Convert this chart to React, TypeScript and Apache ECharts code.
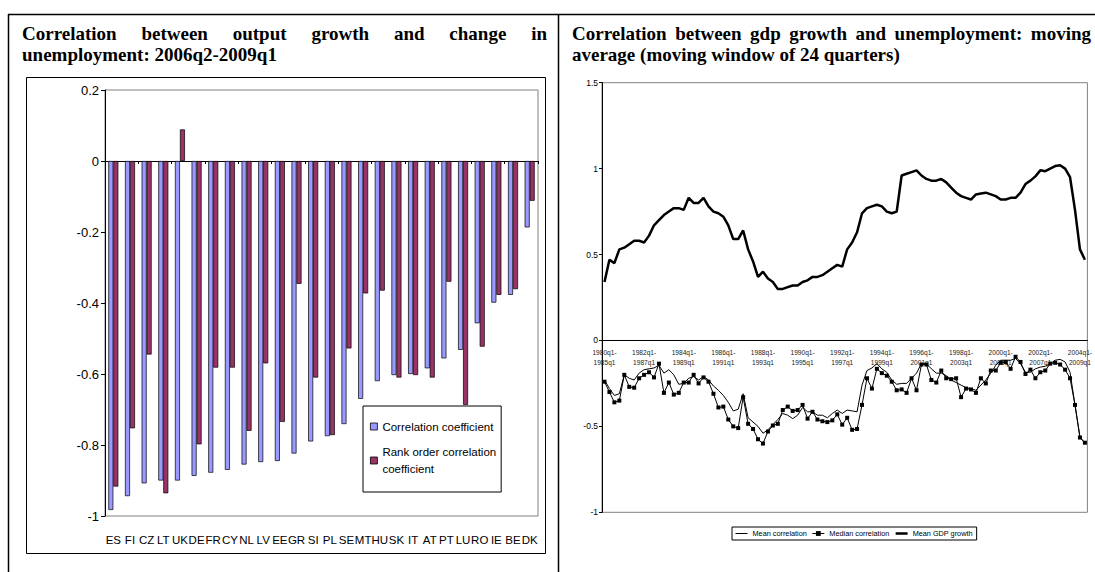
import * as echarts from "echarts"
import {useEffect, useRef} from "react"

// left chart: 2006q2-2009q1 correlations by country
const countries = ["ES", "FI", "CZ", "LT", "UK", "DE", "FR", "CY", "NL", "LV", "EE", "GR", "SI",
    "PL", "SE", "MT", "HU", "SK", "IT", "AT", "PT", "LU", "RO", "IE", "BE", "DK"]
const correlationCoefficient = [-0.983, -0.944, -0.908, -0.9, -0.9, -0.887, -0.878, -0.87, -0.855, -0.848,
    -0.845, -0.824, -0.79, -0.775, -0.741, -0.67, -0.62, -0.603, -0.6, -0.584, -0.556, -0.532, -0.457,
    -0.399, -0.377, -0.187]
const rankOrderCoefficient = [-0.917, -0.753, -0.545, -0.936, 0.089, -0.798, -0.582, -0.582, -0.76, -0.57,
    -0.735, -0.346, -0.61, -0.772, -0.528, -0.373, -0.365, -0.61, -0.603, -0.61, -0.34, -0.687, -0.523,
    -0.377, -0.361, -0.112]

// right chart: moving windows, first window starts 1980q1
const firstYear = 1980
const windowYears = 5
const windowCount = 98
const windows: string[] = []
for (let i = 0; i < windowCount; i++) {
    const y = firstYear + Math.floor(i / 4)
    const q = (i % 4) + 1
    windows.push(`${y}q${q}-\n${y + windowYears}q${q}`)
}

const meanCorrelation = [
    -0.23, -0.28, -0.32, -0.31, -0.2, -0.22, -0.23, -0.19, -0.17, -0.165,
    -0.16, -0.145, -0.19, -0.17, -0.2, -0.255, -0.25, -0.22, -0.21, -0.23,
    -0.21, -0.23, -0.265, -0.29, -0.32, -0.36, -0.41, -0.4, -0.31, -0.45,
    -0.475, -0.5, -0.54, -0.52, -0.49, -0.46, -0.425, -0.435, -0.455, -0.435,
    -0.39, -0.415, -0.415, -0.435, -0.435, -0.45, -0.425, -0.405, -0.425, -0.405,
    -0.41, -0.415, -0.26, -0.175, -0.16, -0.135, -0.165, -0.185, -0.23, -0.255,
    -0.25, -0.25, -0.22, -0.19, -0.135, -0.135, -0.165, -0.19, -0.19, -0.205,
    -0.23, -0.245, -0.26, -0.275, -0.28, -0.29, -0.26, -0.23, -0.19, -0.145,
    -0.115, -0.115, -0.115, -0.105, -0.135, -0.185, -0.185, -0.165, -0.155, -0.15,
    -0.135, -0.115, -0.11, -0.125, -0.185, -0.375, -0.56, -0.6]
const medianCorrelation = [
    -0.24, -0.3, -0.36, -0.35, -0.2, -0.27, -0.275, -0.22, -0.2, -0.185,
    -0.215, -0.135, -0.305, -0.245, -0.315, -0.305, -0.245, -0.245, -0.2, -0.25,
    -0.215, -0.24, -0.31, -0.39, -0.385, -0.46, -0.5, -0.51, -0.33, -0.485,
    -0.515, -0.575, -0.6, -0.53, -0.495, -0.485, -0.405, -0.385, -0.41, -0.405,
    -0.375, -0.455, -0.415, -0.46, -0.47, -0.475, -0.465, -0.43, -0.49, -0.45,
    -0.52, -0.515, -0.375, -0.22, -0.28, -0.165, -0.19, -0.205, -0.24, -0.29,
    -0.285, -0.305, -0.22, -0.29, -0.14, -0.14, -0.23, -0.245, -0.175, -0.22,
    -0.225, -0.22, -0.33, -0.28, -0.285, -0.305, -0.22, -0.25, -0.175, -0.175,
    -0.13, -0.125, -0.165, -0.095, -0.125, -0.195, -0.17, -0.22, -0.185, -0.175,
    -0.135, -0.13, -0.14, -0.17, -0.22, -0.375, -0.565, -0.595]
const meanGdpGrowth = [
    0.34, 0.47, 0.45, 0.53, 0.54, 0.56, 0.58, 0.58, 0.57, 0.61,
    0.67, 0.7, 0.73, 0.75, 0.77, 0.77, 0.76, 0.83, 0.8, 0.8,
    0.83, 0.78, 0.75, 0.74, 0.72, 0.67, 0.59, 0.59, 0.64, 0.53,
    0.46, 0.37, 0.4, 0.36, 0.34, 0.3, 0.3, 0.31, 0.32, 0.32,
    0.34, 0.35, 0.37, 0.37, 0.38, 0.4, 0.42, 0.44, 0.43, 0.53,
    0.57, 0.63, 0.74, 0.77, 0.78, 0.79, 0.78, 0.75, 0.74, 0.75,
    0.96, 0.97, 0.98, 0.99, 0.96, 0.94, 0.93, 0.93, 0.94, 0.92,
    0.89, 0.86, 0.84, 0.83, 0.82, 0.85, 0.855, 0.86, 0.85, 0.84,
    0.82, 0.82, 0.83, 0.83, 0.86, 0.91, 0.93, 0.955, 0.99, 0.985,
    1.0, 1.015, 1.02, 1.0, 0.95, 0.76, 0.53, 0.47]

const leftTitle = ["Correlation between output growth and change in", "unemployment: 2006q2-2009q1"]
const rightTitle = ["Correlation between gdp growth and unemployment: moving", "average (moving window of 24 quarters)"]

const SANS = '"Liberation Sans", Arial, sans-serif'
const SERIF = '"Liberation Serif", "Times New Roman", serif'
const TITLE_SIZE = 19

// right plot: top at 1.5, bottom at -1, the category axis sits on 0
const R_TOP = 82.7
const R_HEIGHT = 429.6
const R_ZERO_OFFSET = -R_HEIGHT * 1 / 2.5

const titleText = (text: string, x: number, y: number) => ({
    type: 'text', x, y, silent: true,
    style: {text, fontSize: TITLE_SIZE, fontWeight: 'bold', fontFamily: SERIF, fill: '#000', verticalAlign: 'middle'}
})

// word-by-word layout so that a line stretches from x0 to x1 like justified text
const justified = (text: string, x0: number, x1: number, y: number) => {
    const ctx = document.createElement('canvas').getContext('2d')!
    ctx.font = `bold ${TITLE_SIZE}px ${SERIF}`
    const words = text.split(' ')
    const widths = words.map(w => ctx.measureText(w).width)
    const gap = (x1 - x0 - widths.reduce((a, b) => a + b, 0)) / (words.length - 1)
    let x = x0
    return words.map((w, i) => {
        const el = titleText(w, x, y)
        x += widths[i] + gap
        return el
    })
}

const App: React.FC = () => {
    const chartContainerRef = useRef<HTMLDivElement | null>(null)

    useEffect(() => {
        const chart = echarts.init(chartContainerRef.current, null, {renderer: 'svg'})

        const frame = {stroke: '#000', lineWidth: 1.5}
        const graphic = [
            {type: 'line', shape: {x1: 8, y1: 14.5, x2: 1095, y2: 14.5}, style: frame},
            {type: 'line', shape: {x1: 8.5, y1: 14, x2: 8.5, y2: 572}, style: frame},
            {type: 'line', shape: {x1: 558.5, y1: 14, x2: 558.5, y2: 572}, style: frame},
            {type: 'rect', shape: {x: 26.5, y: 77.5, width: 519, height: 476}, style: {fill: 'none', stroke: '#000', lineWidth: 1}},
            ...justified(leftTitle[0], 22, 547, 33),
            titleText(leftTitle[1], 22, 54),
            ...justified(rightTitle[0], 572, 1091, 33),
            titleText(rightTitle[1], 572, 54),
        ]

        const lineItemHidden = {opacity: 0}

        const option = {
            animation: false,
            backgroundColor: '#fff',
            graphic,
            grid: [
                {left: 105, top: 90, width: 433, height: 426, show: true, borderColor: '#808080', borderWidth: 1},
                {left: 602, top: R_TOP, width: 494.4, height: R_HEIGHT, show: true, borderColor: '#808080', borderWidth: 1},
            ],
            xAxis: [
                {
                    gridIndex: 0, type: 'category', data: countries, position: 'bottom',
                    axisLine: {onZero: true, lineStyle: {color: '#000', width: 1}},
                    axisTick: {show: true, length: 3, lineStyle: {color: '#000'}},
                    axisLabel: {show: false},
                },
                {
                    gridIndex: 0, type: 'category', data: countries, position: 'bottom',
                    axisLine: {show: false, onZero: false},
                    axisTick: {show: false},
                    axisLabel: {interval: 0, fontSize: 11.5, fontFamily: SANS, color: '#000', margin: 18},
                },
                {
                    gridIndex: 1, type: 'category', data: windows, boundaryGap: true,
                    position: 'bottom', offset: R_ZERO_OFFSET,
                    axisLine: {onZero: false, lineStyle: {color: '#000', width: 1}},
                    axisTick: {show: false},
                    axisLabel: {interval: 7, fontSize: 6.6, lineHeight: 10, fontFamily: SANS, color: '#222', margin: 7},
                },
            ],
            yAxis: [
                {
                    gridIndex: 0, type: 'value', min: -1, max: 0.2, interval: 0.2,
                    splitLine: {show: false},
                    axisLine: {show: true, lineStyle: {color: '#000'}},
                    axisTick: {show: true, length: 4, lineStyle: {color: '#000'}},
                    axisLabel: {
                        fontSize: 13, fontFamily: SANS, color: '#000', margin: 6,
                        formatter: (v: number) => String(Math.round(v * 10) / 10)
                    },
                },
                {
                    gridIndex: 1, type: 'value', min: -1, max: 1.5, interval: 0.5,
                    splitLine: {show: false},
                    axisLine: {show: true, lineStyle: {color: '#000'}},
                    axisTick: {show: true, length: 3, lineStyle: {color: '#000'}},
                    axisLabel: {
                        fontSize: 8.5, fontFamily: SANS, color: '#000', margin: 4,
                        formatter: (v: number) => String(Math.round(v * 10) / 10)
                    },
                },
            ],
            legend: [
                {
                    left: 363, top: 406, orient: 'vertical',
                    borderColor: '#000', borderWidth: 1, borderRadius: 0,
                    padding: [12, 5, 6, 7], itemGap: 0,
                    itemWidth: 7, itemHeight: 7, icon: 'rect',
                    itemStyle: {borderColor: '#000', borderWidth: 0.8},
                    textStyle: {fontSize: 11.5, fontFamily: SANS, color: '#000', lineHeight: 17},
                    formatter: (name: string) => name === 'Rank order correlation coefficient'
                        ? 'Rank order correlation\ncoefficient' : name,
                    data: [
                        'Correlation coefficient',
                        {name: 'Rank order correlation coefficient', textStyle: {padding: [17, 0, 0, 0]}},
                    ],
                },
                {
                    left: 732, top: 527, orient: 'horizontal',
                    borderColor: '#000', borderWidth: 1, borderRadius: 0,
                    padding: [3, 4, 3, 3], itemGap: 5,
                    itemWidth: 12, itemHeight: 6,
                    textStyle: {fontSize: 7.3, fontFamily: SANS, color: '#000'},
                    data: [
                        {name: 'Mean correlation', lineStyle: {width: 1}, itemStyle: lineItemHidden},
                        {name: 'Median correlation', lineStyle: {width: 1}},
                        {name: 'Mean GDP growth', lineStyle: {width: 2.5}, itemStyle: lineItemHidden},
                    ],
                },
            ],
            series: [
                {
                    name: 'Correlation coefficient', type: 'bar', xAxisIndex: 0, yAxisIndex: 0,
                    data: correlationCoefficient, barWidth: 5, barGap: '0%',
                    itemStyle: {color: '#9999FF', borderColor: '#000', borderWidth: 0.7},
                },
                {
                    name: 'Rank order correlation coefficient', type: 'bar', xAxisIndex: 0, yAxisIndex: 0,
                    data: rankOrderCoefficient, barWidth: 5, barGap: '0%',
                    itemStyle: {color: '#993366', borderColor: '#000', borderWidth: 0.7},
                },
                {
                    name: 'Mean correlation', type: 'line', xAxisIndex: 2, yAxisIndex: 1,
                    data: meanCorrelation, symbol: 'none',
                    itemStyle: {color: '#000'}, lineStyle: {color: '#000', width: 1},
                },
                {
                    name: 'Median correlation', type: 'line', xAxisIndex: 2, yAxisIndex: 1,
                    data: medianCorrelation, symbol: 'rect', symbolSize: 4, showAllSymbol: true,
                    itemStyle: {color: '#000'}, lineStyle: {color: '#000', width: 1},
                },
                {
                    name: 'Mean GDP growth', type: 'line', xAxisIndex: 2, yAxisIndex: 1,
                    data: meanGdpGrowth, symbol: 'none',
                    itemStyle: {color: '#000'}, lineStyle: {color: '#000', width: 2.5},
                },
            ],
        }

        chart.setOption(option)

        return () => {
            chart.dispose()
        }
    }, [])

    return <div ref={chartContainerRef} style={{
        position: 'fixed', left: 0, top: 0, width: 1095, height: 572, background: '#fff'
    }}></div>
}

export default App
